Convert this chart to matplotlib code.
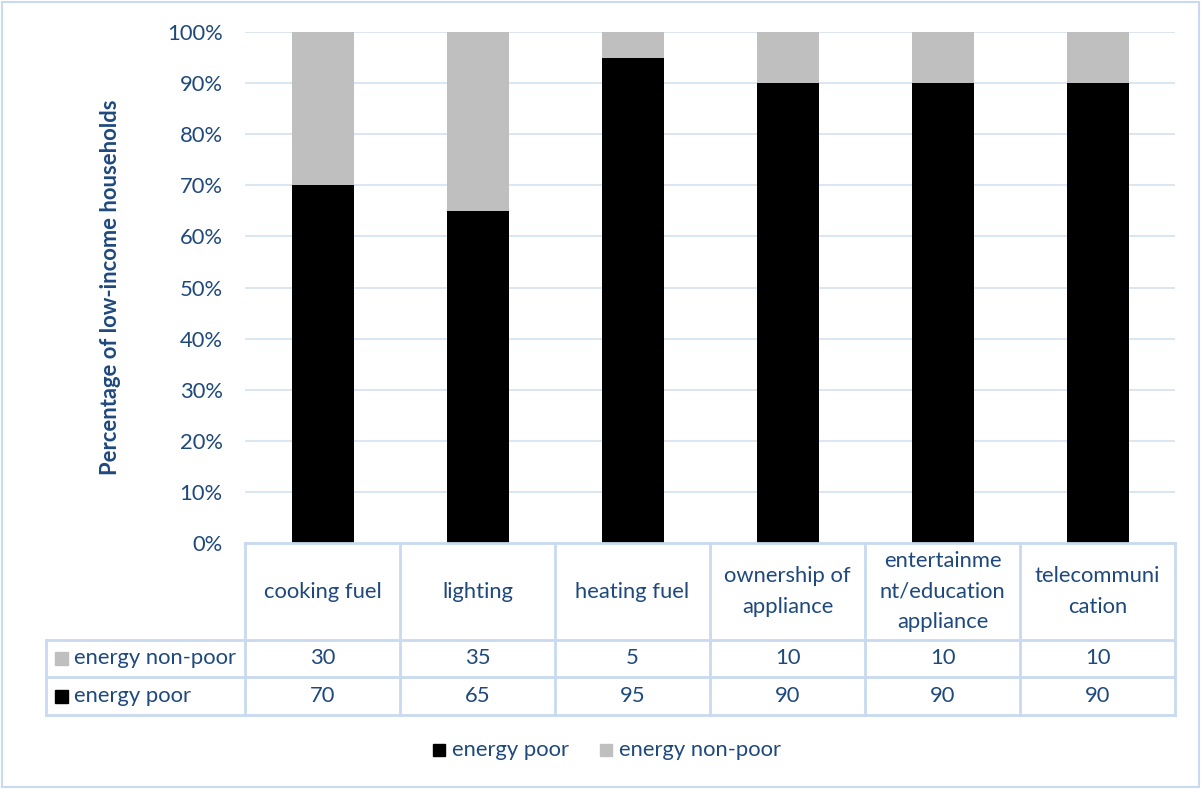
import matplotlib.pyplot as plt
from matplotlib.lines import Line2D
from matplotlib.patches import Rectangle

categories = ["cooking fuel", "lighting", "heating fuel", "ownership of\nappliance",
              "entertainme\nnt/education\nappliance", "telecommuni\ncation"]
energy_poor = [70, 65, 95, 90, 90, 90]
energy_non_poor = [30, 35, 5, 10, 10, 10]
series_names = ["energy poor", "energy non-poor"]
y_ticks = [0, 10, 20, 30, 40, 50, 60, 70, 80, 90, 100]

TEXT = "#1F497D"
GRID = "#D9E3F1"
BORDER = "#C9DAF0"
BLACK = "#000000"
GREY = "#BFBFBF"
FONT = "Lato"
FS = 15.8

W, H = 1202, 789
fig = plt.figure(figsize=(W / 100, H / 100), dpi=100)


def fx(px):
    return px / W


def fy(py):
    return 1 - py / H


# plot area in pixel coordinates
X0, X1, Y0, Y1 = 245, 1175, 543, 32
ax = fig.add_axes([fx(X0), fy(Y0), fx(X1) - fx(X0), fy(Y1) - fy(Y0)])
n = len(categories)
xs = list(range(n))
ax.bar(xs, energy_poor, width=0.4, color=BLACK, zorder=3)
ax.bar(xs, energy_non_poor, bottom=energy_poor, width=0.4, color=GREY, zorder=3)
ax.set_xlim(-0.5, n - 0.5)
ax.set_ylim(0, 100)
ax.set_yticks(y_ticks)
ax.set_yticklabels([f"{t}%" for t in y_ticks], fontsize=FS, color=TEXT, family=FONT)
ax.tick_params(axis="y", length=0, pad=16)
ax.set_xticks([])
for t in y_ticks[1:]:
    ax.axhline(t, color=GRID, lw=1.3, zorder=1)
for s in ax.spines.values():
    s.set_visible(False)
ax.set_ylabel("Percentage of low-income households", fontsize=FS, color=TEXT,
              family=FONT, fontweight="bold", labelpad=33)

# data table under the bars
col_w = (X1 - X0) / n
rows_y = [543, 640, 677, 715]
TL = 46


def hline(x_a, x_b, y):
    fig.add_artist(Line2D([fx(x_a), fx(x_b)], [fy(y), fy(y)], color=BORDER, lw=2))


def vline(x, y_a, y_b):
    fig.add_artist(Line2D([fx(x), fx(x)], [fy(y_a), fy(y_b)], color=BORDER, lw=2))


hline(X0, X1, rows_y[0])
for y in rows_y[1:]:
    hline(TL, X1, y)
vline(TL, rows_y[1], rows_y[3])
for i in range(n + 1):
    vline(X0 + i * col_w, rows_y[0], rows_y[3])

for i, cat in enumerate(categories):
    cx = X0 + (i + 0.5) * col_w
    fig.text(fx(cx), fy((rows_y[0] + rows_y[1]) / 2), cat, ha="center", va="center",
             fontsize=FS, color=TEXT, family=FONT, linespacing=1.65)
    fig.text(fx(cx), fy((rows_y[1] + rows_y[2]) / 2), str(energy_non_poor[i]),
             ha="center", va="center", fontsize=FS, color=TEXT, family=FONT)
    fig.text(fx(cx), fy((rows_y[2] + rows_y[3]) / 2), str(energy_poor[i]),
             ha="center", va="center", fontsize=FS, color=TEXT, family=FONT)

# row headers with legend keys
for (r0, r1), name, col in [((rows_y[1], rows_y[2]), series_names[1], GREY),
                            ((rows_y[2], rows_y[3]), series_names[0], BLACK)]:
    cy = (r0 + r1) / 2
    fig.add_artist(Rectangle((fx(55), fy(cy + 6.5)), fx(13), 13 / H, color=col))
    fig.text(fx(74), fy(cy), name, ha="left", va="center", fontsize=FS,
             color=TEXT, family=FONT)

# legend below the table
for x_sq, name, col in [(433, series_names[0], BLACK), (600, series_names[1], GREY)]:
    fig.add_artist(Rectangle((fx(x_sq), fy(756)), fx(12), 12 / H, color=col))
    fig.text(fx(x_sq + 19), fy(750), name, ha="left", va="center", fontsize=FS,
             color=TEXT, family=FONT)

# chart border
fig.add_artist(Rectangle((fx(2), fy(787)), fx(1197), 785 / H, fill=False,
                         edgecolor=BORDER, lw=1.5))

fig.savefig("out.png", dpi=100)
